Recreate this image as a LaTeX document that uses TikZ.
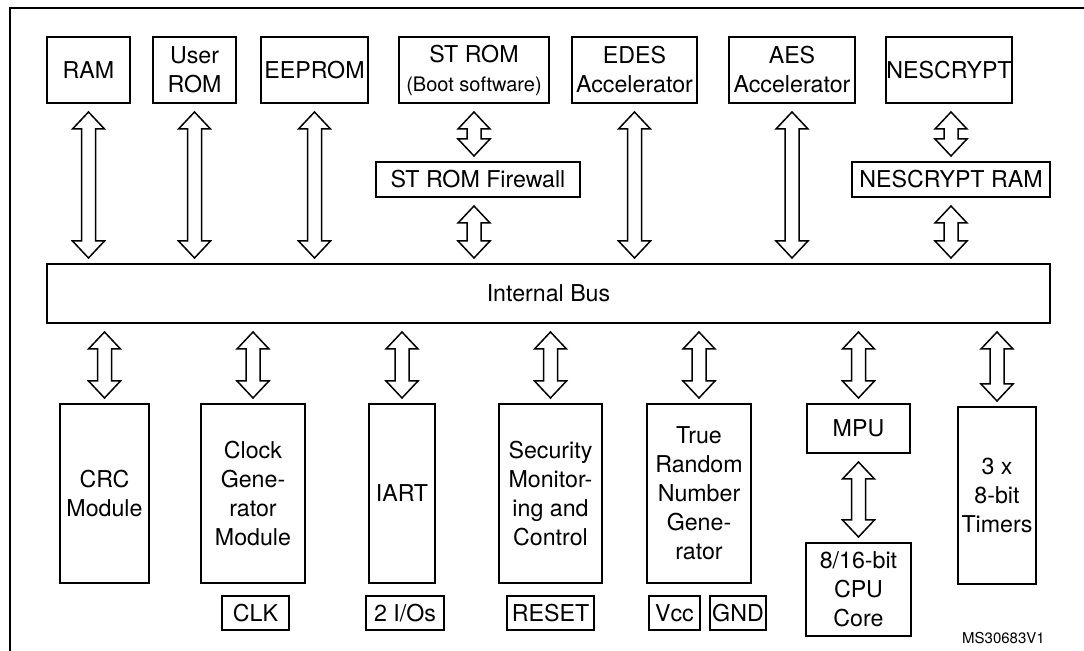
\documentclass[tikz,border=0pt]{standalone}
\usepackage{fontspec}
\setmainfont{TeX Gyre Heros}
\usetikzlibrary{calc}

% hollow double arrow: #1 gives x, #2 upper node, #3 lower node
\newcommand{\twoway}[3]{%
  \draw[twoway] let \p1=(#1.center), \p2=(#2.south), \p3=(#3.north),
    \n1={\y2-4pt}, \n2={\y3+2.5pt} in
    (\x1,\n1) -- (\x1+8pt,\n1-8.5pt) -- (\x1+3.5pt,\n1-8.5pt)
    -- (\x1+3.5pt,\n2+8.5pt) -- (\x1+8pt,\n2+8.5pt) -- (\x1,\n2)
    -- (\x1-8pt,\n2+8.5pt) -- (\x1-3.5pt,\n2+8.5pt)
    -- (\x1-3.5pt,\n1-8.5pt) -- (\x1-8pt,\n1-8.5pt) -- cycle;}

\begin{document}
\begin{tikzpicture}[
		x=0.5pt, y=-0.5pt,
		font=\fontsize{11.6}{14.5}\selectfont,
		blk/.style 2 args={
			draw,
			line width=1pt,
			inner sep=0pt,
			align=center,
			minimum width=#1*0.5pt,
			minimum height=#2*0.5pt},
		twoway/.style={draw, line width=0.75pt, fill=white, line join=miter}
		]
		\useasboundingbox (0,0) rectangle (1084,651);
		\draw[line width=0.8pt] (10,651) |- (1084,8);
		
		% draw memories and accelerators on top
		\foreach \name/\x/\w/\txt in {ram/88.5/83/RAM, urom/194.5/83/{User\\ROM}, eeprom/314.5/107/EEPROM, strom/474/150/{ST ROM\\{\fontsize{10}{11}\selectfont(Boot software)}}, edes/634.5/125/{EDES\\Accelerator}, aes/792/126/{AES\\Accelerator}, nescrypt/949/126/NESCRYPT}
		\node[blk={\w}{66}] (\name) at (\x,70) {\txt};
		
		\node[blk={204}{35}] (fw) at (478,179.5) {ST ROM Firewall};
		\node[blk={198}{35}] (nram) at (951,179.5) {NESCRYPT RAM};
		
		% draw the bus
		\node[blk={1003}{59}] (bus) at (548.5,293.5) {Internal Bus};
		
		% draw peripherals below the bus
		\foreach \name/\x/\w/\txt in {crc/104.5/89/{CRC\\Module}, clock/253/104/{Clock\\Gene-\\rator\\Module}, iart/402/66/IART, secmon/550.5/103/{Security\\Monitor-\\ing and\\Control}, trng/699/104/{True\\Random\\Number\\Gene-\\rator}}
		\node[blk={\w}{179}] (\name) at (\x,493.5) {\txt};
		\node[blk={78}{177}] (timers) at (997,495.5) {3 x\\8-bit\\Timers};
		\node[blk={103}{49}] (mpu) at (858.5,428.5) {MPU};
		\node[blk={105}{93}] (cpu) at (858.5,589.5) {8/16-bit\\CPU\\Core};
		
		% pins
		\foreach \name/\x/\w/\txt in {clk/255.5/67/CLK, ios/405/78/{2 I/Os}, reset/550.5/87/RESET, vcc/674.5/51/Vcc, gnd/738/56/GND}
		\node[blk={\w}{34}] (\name) at (\x,613) {\txt};
		
		\node[font=\fontsize{7.5}{9}\selectfont] (code) at (1003.5,638) {MS30683V1};
		
		% arrows to and from the bus
		\foreach \blk in {ram,urom,eeprom,edes,aes}
		\twoway{\blk}{\blk}{bus};
		\twoway{strom}{strom}{fw};
		\twoway{strom}{fw}{bus};
		\twoway{nram}{nescrypt}{nram};
		\twoway{nram}{nram}{bus};
		\foreach \blk in {crc,clock,iart,secmon,trng,mpu,timers}
		\twoway{\blk}{bus}{\blk};
		\twoway{mpu}{mpu}{cpu};
		\end{tikzpicture}
\end{document}
